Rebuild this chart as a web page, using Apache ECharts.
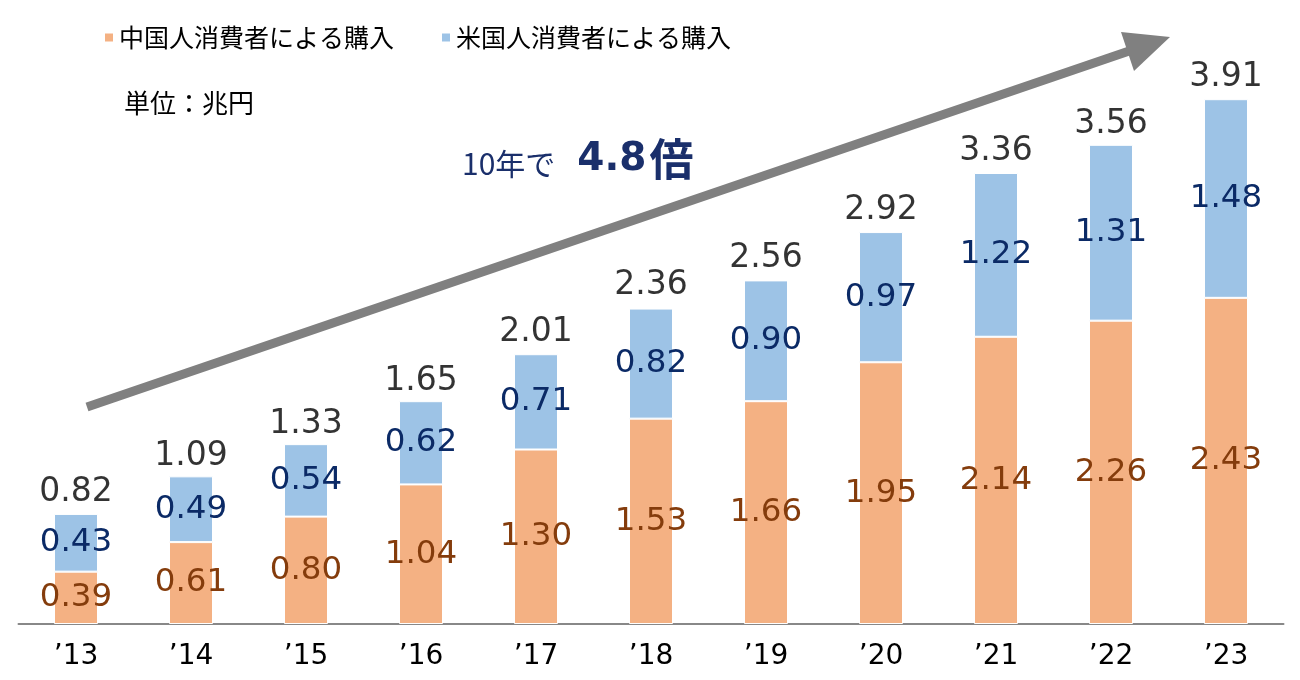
<!DOCTYPE html>
<html><head><meta charset="utf-8">
<script src="https://cdn.jsdelivr.net/npm/echarts@6/dist/echarts.min.js"></script>
<style>html,body{margin:0;padding:0;background:#fff}#c{width:1300px;height:680px}</style>
</head><body><div id="c"></div>
<script>
const categories = ["’13","’14","’15","’16","’17","’18","’19","’20","’21","’22","’23"];
const chinaValues = [0.39,0.61,0.80,1.04,1.30,1.53,1.66,1.95,2.14,2.26,2.43];
const usValues = [0.43,0.49,0.54,0.62,0.71,0.82,0.90,0.97,1.22,1.31,1.48];
const totalValues = [0.82,1.09,1.33,1.65,2.01,2.36,2.56,2.92,3.36,3.56,3.91];
const seriesNames = ["中国人消費者による購入","米国人消費者による購入"];

const NUMFONT = "'DejaVu Sans', sans-serif";
const CJK = "'Noto Sans CJK JP', sans-serif";
const chart = echarts.init(document.getElementById('c'));
chart.setOption({
  animation: false,
  textStyle: {fontFamily: NUMFONT},
  grid: {left: 18.5, right: 16.5, top: 20, bottom: 56},
  legend: {
    left: 98, top: 20, itemWidth: 10, itemHeight: 10, itemGap: 46, icon: 'rect',
    textStyle: {fontSize: 25, color: '#000', fontFamily: CJK},
    data: seriesNames
  },
  xAxis: {
    type: 'category', data: categories,
    axisLine: {lineStyle: {color: '#888', width: 2}},
    axisTick: {show: false},
    axisLabel: {fontSize: 28, color: '#000', margin: 19, fontFamily: NUMFONT}
  },
  yAxis: {type: 'value', min: 0, max: 4.5, show: false, splitLine: {show: false}},
  series: [
    {
      name: seriesNames[0], type: 'bar', stack: 'a', barWidth: 44, data: chinaValues,
      itemStyle: {color: '#F4B183', borderColor: '#fff', borderWidth: 1},
      label: {show: true, position: 'inside', fontSize: 32.5, color: '#843C0C', fontFamily: NUMFONT,
        formatter: p => p.value.toFixed(2)}
    },
    {
      name: seriesNames[1], type: 'bar', stack: 'a', barWidth: 44, data: usValues,
      itemStyle: {color: '#9DC3E6', borderColor: '#fff', borderWidth: 1},
      label: {show: true, position: 'inside', fontSize: 32.5, color: '#0B2A66', fontFamily: NUMFONT,
        formatter: p => p.value.toFixed(2)}
    },
    {
      name: 'total', type: 'scatter', data: totalValues, symbolSize: 0,
      label: {show: true, position: 'top', distance: 5, fontSize: 33, color: '#000', fontFamily: NUMFONT,
        formatter: p => p.value.toFixed(2)},
      silent: true
    }
  ],
  graphic: [
    {type: 'line', shape: {x1: 87, y1: 407, x2: 1135, y2: 49},
      style: {stroke: '#808080', lineWidth: 9}},
    {type: 'polygon', shape: {points: [[1170,37],[1121,32],[1134,71]]},
      style: {fill: '#808080'}},
    {type: 'text', left: 124, top: 90,
      style: {text: '単位：兆円', fontSize: 26, fill: '#000', fontFamily: CJK}},
    {type: 'text', left: 462, top: 137,
      style: {
        text: '{a|10年で}{b|4.8}{c|倍}',
        rich: {
          a: {fontSize: 30, fill: '#1A2F6B', fontFamily: CJK, verticalAlign: 'bottom', padding: [0,22,2,0]},
          b: {fontSize: 39, fontWeight: 'bold', fill: '#1A2F6B', fontFamily: NUMFONT, verticalAlign: 'bottom', padding: [0,3,2,0]},
          c: {fontSize: 44, fontWeight: 'bold', fill: '#1A2F6B', fontFamily: CJK, verticalAlign: 'bottom'}
        }
      }}
  ]
});
</script></body></html>
